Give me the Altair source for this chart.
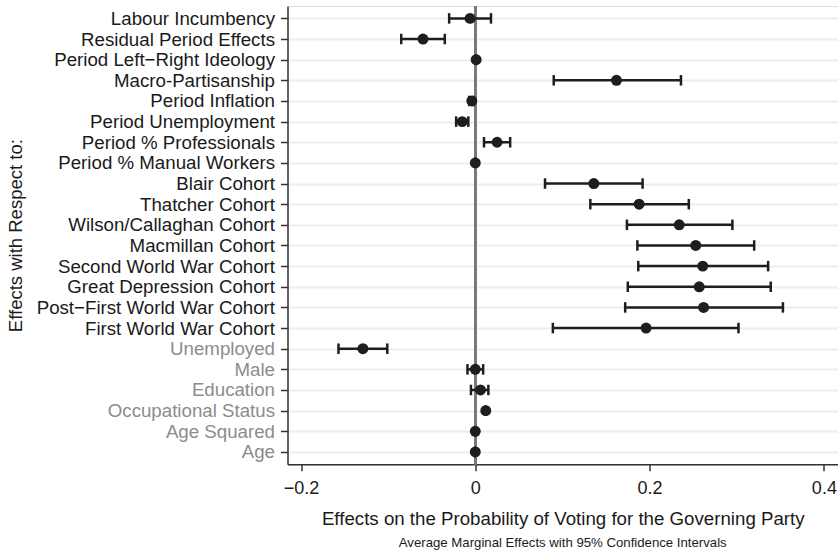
import altair as alt
import pandas as pd

labels = [
    "Labour Incumbency", "Residual Period Effects", "Period Left\u2212Right Ideology",
    "Macro-Partisanship", "Period Inflation", "Period Unemployment",
    "Period % Professionals", "Period % Manual Workers", "Blair Cohort",
    "Thatcher Cohort", "Wilson/Callaghan Cohort", "Macmillan Cohort",
    "Second World War Cohort", "Great Depression Cohort",
    "Post\u2212First World War Cohort", "First World War Cohort",
    "Unemployed", "Male", "Education", "Occupational Status", "Age Squared", "Age",
]
estimate = [-0.006, -0.060, 0.001, 0.162, -0.004, -0.015, 0.025, 0.000, 0.136,
            0.188, 0.234, 0.253, 0.261, 0.257, 0.262, 0.196,
            -0.129, 0.000, 0.006, 0.012, 0.000, 0.000]
lower = [-0.030, -0.085, 0.001, 0.090, -0.007, -0.022, 0.010, 0.000, 0.080,
         0.132, 0.174, 0.186, 0.187, 0.175, 0.172, 0.089,
         -0.157, -0.009, -0.005, 0.012, 0.000, 0.000]
upper = [0.018, -0.035, 0.001, 0.236, -0.002, -0.008, 0.040, 0.000, 0.192,
         0.245, 0.295, 0.320, 0.336, 0.339, 0.353, 0.302,
         -0.101, 0.009, 0.015, 0.012, 0.000, 0.000]
grey_labels = ["Unemployed", "Male", "Education", "Occupational Status", "Age Squared", "Age"]
x_ticks = [-0.2, 0, 0.2, 0.4]

x_title = "Effects on the Probability of Voting for the Governing Party"
y_title = "Effects with Respect to:"
subtitle = "Average Marginal Effects with 95% Confidence Intervals"

df = pd.DataFrame({"label": labels, "est": estimate, "lo": lower, "hi": upper})

W = 550.5
H = 458.3
FONT = "Liberation Sans"
DARK = "#1e1e1e"

grey_js = "[" + ",".join("'" + g + "'" for g in grey_labels) + "]"

yscale = alt.Scale(type="point", padding=0.6, domain=labels)
xscale = alt.Scale(domain=[-0.2155, 0.4162], nice=False, zero=False)

y_enc = alt.Y(
    "label:N", scale=yscale, sort=labels,
    axis=alt.Axis(
        title=y_title, titleFont=FONT, titleFontSize=18.5, titleFontWeight="normal",
        titleColor="#1a1a1a", titleX=-272.2, titleY=H / 2, titleAngle=-90,
        titleAlign="center", titleBaseline="middle",
        labelFont=FONT, labelFontSize=18.7, labelPadding=6, labelLimit=400,
        labelColor={"condition": {"test": "indexof(" + grey_js + ", datum.value) >= 0",
                                  "value": "#8c8c8c"}, "value": "#1a1a1a"},
        tickSize=7, tickColor="#333333", tickWidth=1.5,
        domainColor="#333333", domainWidth=1.5,
        grid=True, gridColor="#ededed", gridWidth=2,
    ),
)
x_axis = alt.Axis(
    values=x_ticks, title=x_title, titleFont=FONT, titleFontSize=18.7,
    titleFontWeight="normal", titleColor="#1a1a1a", titleY=60,
    titleBaseline="alphabetic",
    labelFont=FONT, labelFontSize=18, labelColor="#1a1a1a", labelPadding=9,
    labelExpr="replace(format(datum.value, '~g'), '-', '\u2212')",
    tickSize=6.5, tickColor="#333333", tickWidth=1.5,
    domainColor="#333333", domainWidth=1.5, grid=False,
)

base = alt.Chart(df)

zero = base.mark_rule(color="#7a7a7a", strokeWidth=2).encode(
    x=alt.datum(0, scale=xscale, axis=x_axis)
)
ci = base.mark_rule(color=DARK, strokeWidth=2.5).encode(
    x=alt.X("lo:Q", scale=xscale, axis=x_axis), x2="hi:Q", y=y_enc
)
cap_lo = base.mark_tick(color=DARK, size=10.5, thickness=2.5, opacity=1).encode(
    x=alt.X("lo:Q", scale=xscale), y=y_enc
)
cap_hi = base.mark_tick(color=DARK, size=10.5, thickness=2.5, opacity=1).encode(
    x=alt.X("hi:Q", scale=xscale), y=y_enc
)
points = base.mark_circle(color=DARK, size=120, opacity=1).encode(
    x=alt.X("est:Q", scale=xscale), y=y_enc
)
sub = alt.Chart(pd.DataFrame({"t": [subtitle]})).mark_text(
    font=FONT, fontSize=13.2, color="#1a1a1a", align="center", baseline="alphabetic"
).encode(x=alt.value(W / 2), y=alt.value(541), text="t:N")

chart = alt.layer(zero, ci, cap_lo, cap_hi, points, sub).properties(
    width=W, height=H,
    autosize=alt.AutoSizeParams(type="none"),
    padding={"left": 287.5, "top": 6, "right": 0, "bottom": 554 - 6 - H},
).configure_view(stroke=None).configure(background="white")

chart.save("out.html", embed_options={"renderer": "svg", "actions": False})
